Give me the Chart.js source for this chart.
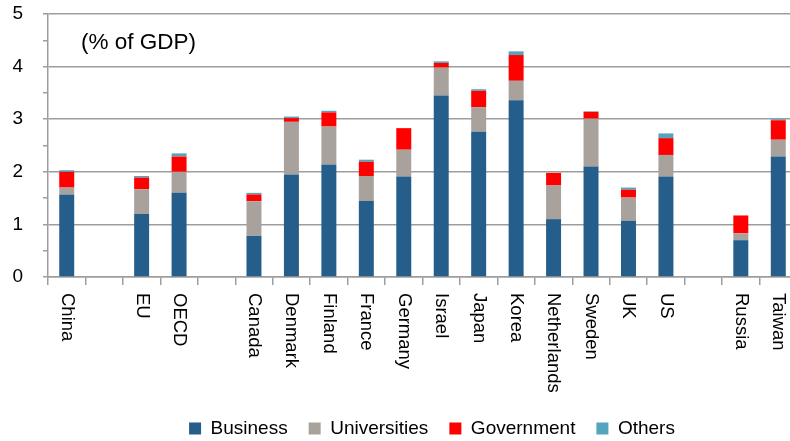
<!DOCTYPE html>
<html>
<head>
<meta charset="utf-8">
<script src="https://cdn.jsdelivr.net/npm/chart.js@4.4.1/dist/chart.umd.min.js"></script>
<style>
  html, body { margin: 0; padding: 0; background: #fff; overflow: hidden; width: 790px; height: 441px; }
  #wrap { width: 800px; height: 441px; }
  canvas { display: block; }
</style>
</head>
<body>
<div id="wrap"><canvas id="rd" width="800" height="441"></canvas></div>
<script>
// R&D expenditure by performing sector, % of GDP
const categories = ['China', '', 'EU', 'OECD', '', 'Canada', 'Denmark', 'Finland', 'France', 'Germany',
  'Israel', 'Japan', 'Korea', 'Netherlands', 'Sweden', 'UK', 'US', '', 'Russia', 'Taiwan'];

const business     = [1.57, null, 1.20, 1.60, null, 0.78, 1.95, 2.14, 1.45, 1.91, 3.45, 2.76, 3.36, 1.10, 2.10, 1.07, 1.91, null, 0.70, 2.29];
const universities = [0.13, null, 0.47, 0.40, null, 0.66, 1.00, 0.72, 0.47, 0.51, 0.53, 0.47, 0.37, 0.64, 0.91, 0.44, 0.41, null, 0.13, 0.32];
const government   = [0.30, null, 0.22, 0.29, null, 0.13, 0.07, 0.27, 0.27, 0.41, 0.09, 0.31, 0.49, 0.24, 0.13, 0.15, 0.32, null, 0.34, 0.37];
const others       = [0.03, null, 0.03, 0.06, null, 0.03, 0.03, 0.03, 0.04, 0.00, 0.03, 0.03, 0.07, 0.00, 0.01, 0.04, 0.09, null, 0.00, 0.02];

const seriesNames = ['Business', 'Universities', 'Government', 'Others'];
const unitLabel = '(% of GDP)';

const FONT = "'Liberation Sans', Arial, sans-serif";
const GREY = '#9d9d9d';

// Unit note in the upper-left of the plot
const unitLabelPlugin = {
  id: 'unitLabel',
  afterDraw(chart) {
    const { ctx, chartArea } = chart;
    ctx.save();
    ctx.font = `22.5px ${FONT}`;
    ctx.fillStyle = '#000';
    ctx.textAlign = 'left';
    ctx.textBaseline = 'middle';
    ctx.fillText(unitLabel, chartArea.left + 33, chartArea.top + 29);
    ctx.restore();
  }
};

// Category names written top-to-bottom under each slot
const verticalCategoryLabels = {
  id: 'verticalCategoryLabels',
  afterDraw(chart) {
    const xs = chart.scales.x;
    const ctx = chart.ctx;
    ctx.save();
    ctx.font = `18.5px ${FONT}`;
    ctx.fillStyle = '#000';
    ctx.textAlign = 'left';
    ctx.textBaseline = 'middle';
    categories.forEach((name, i) => {
      if (!name) return;
      ctx.save();
      ctx.translate(xs.getPixelForValue(i), xs.top + 16);
      ctx.rotate(Math.PI / 2);
      ctx.fillText(name, 0, 0);
      ctx.restore();
    });
    ctx.restore();
  }
};

// Put the legend row where it sits under the plot
const legendPlacement = {
  id: 'legendPlacement',
  afterLayout(chart) {
    const lg = chart.legend;
    if (!lg) return;
    const dx = 432 - (lg.left + lg.right) / 2;
    const dy = 398 - lg.top;
    lg.left += dx; lg.right += dx;
    lg.top += dy; lg.bottom += dy;
  }
};

new Chart(document.getElementById('rd'), {
  type: 'bar',
  data: {
    labels: categories,
    datasets: [
      { label: seriesNames[0], data: business,     backgroundColor: '#255d8b' },
      { label: seriesNames[1], data: universities, backgroundColor: '#a9a29c' },
      { label: seriesNames[2], data: government,   backgroundColor: '#ff0000' },
      { label: seriesNames[3], data: others,       backgroundColor: '#55a4be' }
    ]
  },
  options: {
    responsive: false,
    animation: false,
    devicePixelRatio: 1,
    barPercentage: 0.4,
    categoryPercentage: 1,
    layout: { padding: { left: 0, right: 3, top: 14, bottom: 0 } },
    plugins: {
      legend: {
        position: 'bottom',
        labels: {
          boxWidth: 12,
          boxHeight: 12,
          padding: 21,
          color: '#000',
          font: { family: FONT, size: 19 }
        }
      },
      tooltip: { enabled: false },
      title: { display: false }
    },
    scales: {
      x: {
        stacked: true,
        grid: {
          display: true,
          drawOnChartArea: false,
          drawTicks: true,
          tickLength: 8,
          tickColor: GREY,
          lineWidth: 1.5,
          offset: true
        },
        border: { display: true, color: GREY, width: 1.5 },
        ticks: { display: false },
        afterFit(s) { s.height = 114; }
      },
      y: {
        stacked: true,
        min: 0,
        max: 5,
        ticks: {
          stepSize: 0.5,
          autoSkip: false,
          padding: 20,
          color: '#000',
          font: { family: FONT, size: 19 },
          callback: (v) => Number.isInteger(v) ? String(v) : ''
        },
        grid: {
          color: (c) => (c.tick && Number.isInteger(c.tick.value)) ? GREY : 'rgba(0,0,0,0)',
          tickColor: GREY,
          tickLength: 5,
          lineWidth: 1.5
        },
        border: { display: true, color: GREY, width: 1.5 },
        afterFit(s) {
          s.width = 48;
          s.paddingTop = 0;
          s.paddingBottom = 0;
        }
      }
    }
  },
  plugins: [unitLabelPlugin, verticalCategoryLabels, legendPlacement]
});
</script>
</body>
</html>
